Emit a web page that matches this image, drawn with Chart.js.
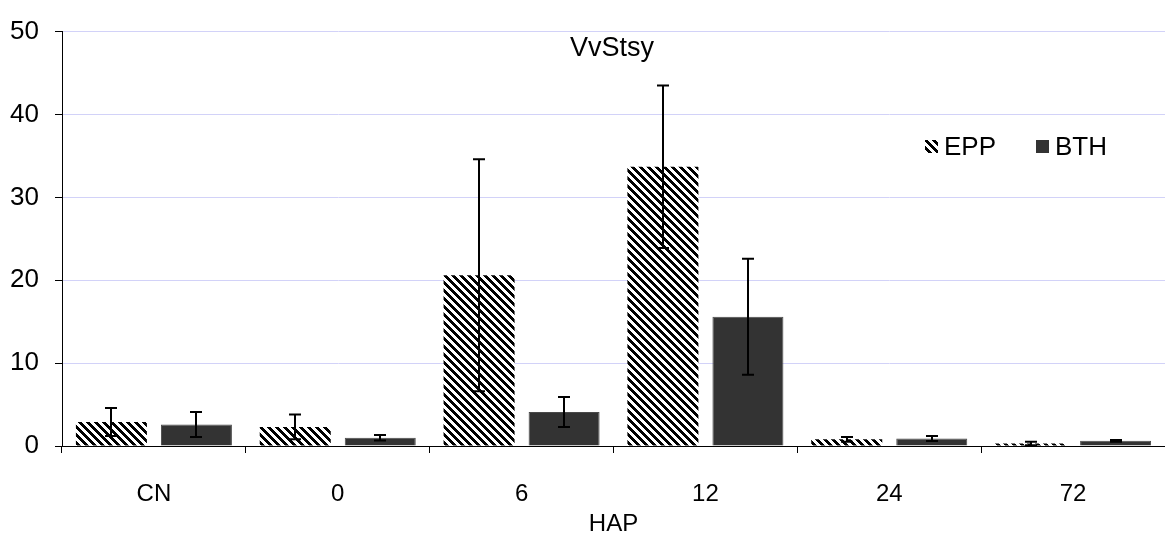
<!DOCTYPE html>
<html>
<head>
<meta charset="utf-8">
<script src="https://cdn.jsdelivr.net/npm/chart.js@4"></script>
<style>
html,body{margin:0;padding:0;background:#fff;}
#wrap{width:1165px;height:539px;position:relative;}
</style>
</head>
<body>
<div id="wrap"><canvas id="c" width="1165" height="539"></canvas></div>
<script>
const categories = ['CN', '0', '6', '12', '24', '72'];
const seriesNames = ['EPP', 'BTH'];
const eppValues = [2.9, 2.3, 20.6, 33.7, 0.8, 0.3];
const eppErrors = [1.7, 1.5, 14.0, 9.8, 0.3, 0.2];
const bthValues = [2.6, 1.0, 4.1, 15.6, 0.9, 0.62];
const bthErrors = [1.5, 0.33, 1.8, 7.0, 0.3, 0.1];
const yTicks = [0, 10, 20, 30, 40, 50];
const chartTitle = 'VvStsy';
const xTitle = 'HAP';

const FONT = "'Liberation Sans', Arial, sans-serif";

function makeHatch() {
  const c = document.createElement('canvas');
  c.width = 8; c.height = 8;
  const x = c.getContext('2d');
  x.fillStyle = '#fff';
  x.fillRect(0, 0, 8, 8);
  x.fillStyle = '#000';
  for (let i = 0; i < 8; i++) {
    for (let j = 0; j < 8; j++) {
      if ((((i - j) % 8) + 8) % 8 < 4) x.fillRect(i, j, 1, 1);
    }
  }
  return x.createPattern(c, 'repeat');
}
const hatch = makeHatch();

const errorArrays = [eppErrors, bthErrors];

const extras = {
  id: 'extras',
  afterDatasetsDraw(chart) {
    const ctx = chart.ctx;
    const y = chart.scales.y;
    ctx.save();
    ctx.strokeStyle = '#000';
    ctx.lineWidth = 2;
    chart.data.datasets.forEach((ds, di) => {
      const meta = chart.getDatasetMeta(di);
      meta.data.forEach((bar, i) => {
        const v = ds.data[i], e = errorArrays[di][i];
        const x = Math.round(bar.x);
        const yt = y.getPixelForValue(v + e);
        const yb = y.getPixelForValue(Math.max(0, v - e));
        ctx.beginPath();
        ctx.moveTo(x, yt); ctx.lineTo(x, yb);
        ctx.moveTo(x - 6, yt); ctx.lineTo(x + 6, yt);
        ctx.moveTo(x - 6, yb); ctx.lineTo(x + 6, yb);
        ctx.stroke();
      });
    });
    ctx.restore();
  },
  afterDraw(chart) {
    const ctx = chart.ctx;
    ctx.save();
    // title inside plot
    ctx.fillStyle = '#000';
    ctx.font = '27px ' + FONT;
    ctx.textAlign = 'center';
    ctx.textBaseline = 'middle';
    ctx.fillText(chartTitle, 612, 49);
    // legend
    ctx.font = '26px ' + FONT;
    ctx.textAlign = 'left';
    const items = [
      { x: 925, fill: hatch },
      { x: 1036, fill: '#333333' }
    ];
    chart.data.datasets.forEach((ds, i) => {
      const it = items[i];
      ctx.fillStyle = it.fill;
      ctx.fillRect(it.x, 140, 13, 13);
      ctx.fillStyle = '#000';
      ctx.fillText(ds.label, it.x + 19, 148);
    });
    ctx.restore();
  }
};

new Chart(document.getElementById('c'), {
  type: 'bar',
  data: {
    labels: categories,
    datasets: [
      { label: seriesNames[0], data: eppValues, backgroundColor: hatch, borderWidth: 0,
        categoryPercentage: 0.925, barPercentage: 0.835 },
      { label: seriesNames[1], data: bthValues, backgroundColor: '#333333', borderColor: '#4a4a4a', borderWidth: 1,
        categoryPercentage: 0.925, barPercentage: 0.835 }
    ]
  },
  options: {
    responsive: false,
    animation: false,
    devicePixelRatio: 1,
    layout: { padding: { top: 21, right: 0, left: 0, bottom: 0 } },
    plugins: {
      legend: { display: false },
      title: { display: false },
      tooltip: { enabled: false }
    },
    scales: {
      x: {
        afterFit(s) { s.height = 93; },
        border: { display: true, color: '#000', width: 1 },
        grid: { offset: true, drawOnChartArea: false, drawTicks: true, tickLength: 7, color: '#000' },
        ticks: { color: '#000', padding: 27, font: { family: FONT, size: 24 }, maxRotation: 0 },
        title: { display: true, text: xTitle, color: '#000', font: { family: FONT, size: 24 }, padding: { top: 0, bottom: 0 } }
      },
      y: {
        min: 0, max: 50,
        afterFit(s) { s.width = 62; },
        afterBuildTicks(s) { s.ticks = yTicks.map(v => ({ value: v })); },
        border: { display: true, color: '#000', width: 1 },
        grid: {
          drawTicks: true, tickLength: 7, tickColor: '#000', tickBorderDash: [],
          color: (c) => (c.tick && c.tick.value === 0) ? 'rgba(0,0,0,0)' : '#d2d2f8',
          borderDash: [3, 1], lineWidth: 1
        },
        ticks: { color: '#000', padding: 16, font: { family: FONT, size: 26 } }
      }
    }
  },
  plugins: [extras]
});
</script>
</body>
</html>
